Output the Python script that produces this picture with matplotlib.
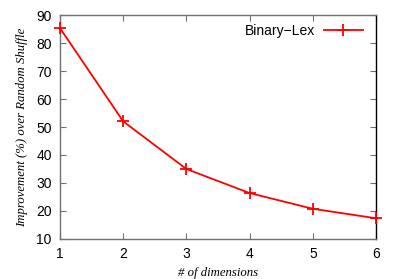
import matplotlib
matplotlib.use("Agg")
import matplotlib.pyplot as plt

dims = [1, 2, 3, 4, 5, 6]
binary_lex = [85.3, 52.0, 35.0, 26.4, 20.8, 17.4]
series_name = "Binary\u2212Lex"

plt.rcParams['font.family'] = ['Liberation Sans', 'DejaVu Sans']

fig = plt.figure(figsize=(3.99, 2.79), dpi=100)
ax = fig.add_axes([0.1504, 0.1434, 0.7920, 0.8028])

ax.plot(dims, binary_lex, color='#ff0000', lw=1.3, marker='+', ms=9, mew=1.3,
        label=series_name, clip_on=False, zorder=3)

ax.set_xlim(1, 6)
ax.set_ylim(10, 90)
ax.set_xticks(dims)
ax.set_yticks(range(10, 91, 10))
ax.tick_params(direction='in', top=True, right=True, length=4, width=0.8,
               color='#707070', labelsize=10, pad=6)
for s in ax.spines.values():
    s.set_color('#707070')
    s.set_linewidth(1.0)
ax.spines['right'].set_color('black')

ax.set_xlabel('# of dimensions', family='Liberation Serif', style='italic', fontsize=9.2, labelpad=4)
ax.set_ylabel('Improvement (%) over Random Shuffle', family='Liberation Serif', style='italic',
              fontsize=9.2, labelpad=6)

leg = ax.legend(loc='upper right', frameon=False, fontsize=10, markerfirst=False,
                handlelength=2.8, borderaxespad=0.0, handletextpad=0.6,
                bbox_to_anchor=(0.975, 0.985))

fig.savefig('out.png', dpi=100)
